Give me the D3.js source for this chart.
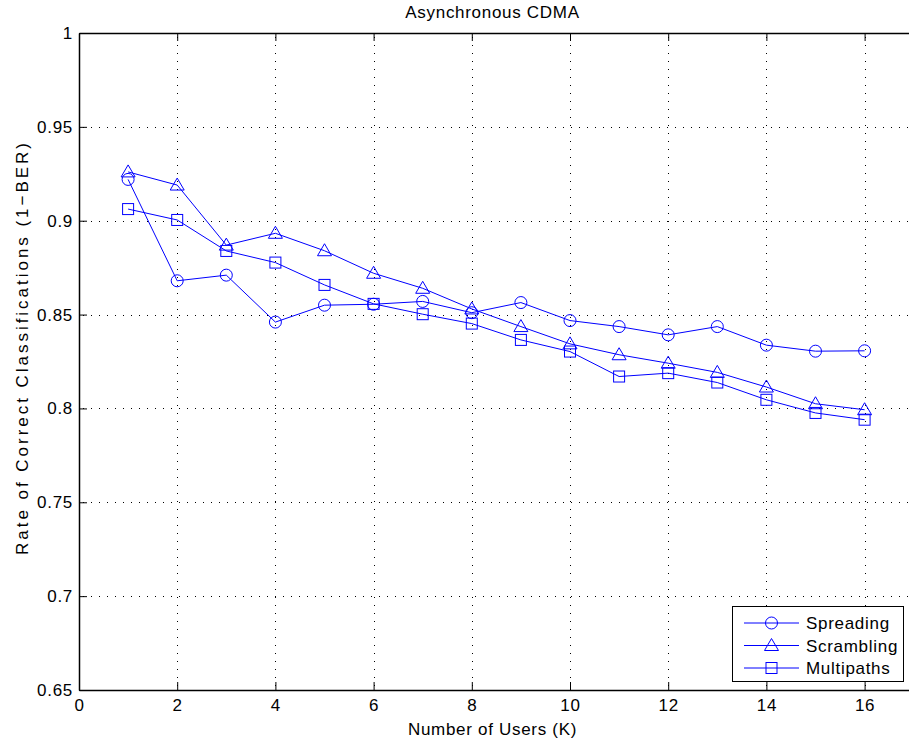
<!DOCTYPE html>
<html>
<head>
<meta charset="utf-8">
<script src="https://cdn.jsdelivr.net/npm/d3@7"></script>
<style>
  html, body { margin: 0; padding: 0; background: #fff; }
  svg { display: block; }
  text { font-family: "Liberation Sans", Arial, Helvetica, sans-serif; fill: #000; }
</style>
</head>
<body>
<svg id="chart" width="909" height="745"></svg>
<script>
// Number of active users
const users = [1, 2, 3, 4, 5, 6, 7, 8, 9, 10, 11, 12, 13, 14, 15, 16];

// Rate of correct classifications (1 - BER) per feature set
const spreading  = [0.922, 0.868, 0.871, 0.846, 0.855, 0.8555, 0.857, 0.851, 0.8564, 0.8468, 0.8436, 0.8392, 0.8436, 0.8337, 0.8305, 0.8307];
const scrambling = [0.926, 0.919, 0.887, 0.8933, 0.884, 0.872, 0.864, 0.853, 0.8436, 0.8344, 0.8286, 0.8241, 0.8192, 0.8114, 0.8025, 0.7993];
const multipaths = [0.9062, 0.9004, 0.8839, 0.8777, 0.8658, 0.8557, 0.8502, 0.8452, 0.8365, 0.8303, 0.817, 0.8188, 0.8138, 0.8046, 0.7976, 0.794];

const seriesNames = ["Spreading", "Scrambling", "Multipaths"];
const seriesMarkers = ["circle", "triangle", "square"];
const xTicks = [0, 2, 4, 6, 8, 10, 12, 14, 16];
const yTicks = [0.65, 0.7, 0.75, 0.8, 0.85, 0.9, 0.95, 1];

const series = [spreading, scrambling, multipaths].map((vals, i) => ({
  name: seriesNames[i],
  marker: seriesMarkers[i],
  values: vals.map((v, j) => ({ x: users[j], y: v }))
}));

const svg = d3.select("#chart");
const plotLeft = 79, plotTop = 33, plotBottom = 690;
const x = d3.scaleLinear().domain([0, 17]).range([plotLeft, plotLeft + 17 * 49.1]);
const y = d3.scaleLinear().domain([0.65, 1]).range([plotBottom, plotTop]);
const plotRight = x(17);
const blue = "#0000ff";
const fontSize = 17;
const spacing = 0.7;

// Dotted grid
const grid = svg.append("g").attr("stroke", "#000").attr("stroke-width", 1)
  .attr("stroke-dasharray", "1,7").attr("shape-rendering", "crispEdges");
xTicks.filter(t => t > 0).forEach(t => {
  grid.append("line").attr("x1", Math.round(x(t)) + 0.5).attr("x2", Math.round(x(t)) + 0.5)
    .attr("y1", plotBottom).attr("y2", plotTop).attr("stroke-dashoffset", 4);
});
yTicks.filter(t => t > 0.65 && t < 1).forEach(t => {
  grid.append("line").attr("y1", Math.round(y(t)) + 0.5).attr("y2", Math.round(y(t)) + 0.5)
    .attr("x1", plotLeft).attr("x2", plotRight).attr("stroke-dashoffset", 4);
});

// Axes (ticks point inward, mirrored on top)
const xAxis = d3.axisBottom(x).tickValues(xTicks).tickFormat(d3.format("d")).tickSizeInner(-8).tickSizeOuter(0).tickPadding(9);
const xAxisTop = d3.axisTop(x).tickValues(xTicks).tickFormat("").tickSizeInner(-8).tickSizeOuter(0);
const yAxis = d3.axisLeft(y).tickValues(yTicks).tickFormat(d => String(+d.toFixed(2))).tickSizeInner(-8).tickSizeOuter(0).tickPadding(6);

function styleAxis(g) {
  g.select(".domain").attr("stroke", "#000").attr("stroke-width", 1.5);
  g.selectAll(".tick line").attr("stroke", "#000").attr("stroke-width", 1);
  g.selectAll(".tick text").attr("font-size", fontSize).attr("letter-spacing", spacing)
    .attr("font-family", "Liberation Sans, Arial, sans-serif").attr("fill", "#000");
}
svg.append("g").attr("transform", `translate(0,${plotBottom})`).call(xAxis).call(styleAxis);
svg.append("g").attr("transform", `translate(0,${plotTop})`).call(xAxisTop).call(styleAxis);
svg.append("g").attr("transform", `translate(${plotLeft},0)`).call(yAxis).call(styleAxis);

// Series lines and markers
const line = d3.line().x(d => x(d.x)).y(d => y(d.y));

function drawMarker(g, type, cx, cy) {
  if (type === "circle") {
    g.append("circle").attr("cx", cx).attr("cy", cy).attr("r", 6);
  } else if (type === "triangle") {
    g.append("path").attr("d", `M${cx},${cy - 7}L${cx + 7},${cy + 5}L${cx - 7},${cy + 5}Z`);
  } else {
    g.append("rect").attr("x", cx - 5.5).attr("y", cy - 5.5).attr("width", 11).attr("height", 11);
  }
}

series.forEach(s => {
  const g = svg.append("g").attr("fill", "none").attr("stroke", blue).attr("stroke-width", 1);
  g.append("path").datum(s.values).attr("d", line);
  s.values.forEach(p => drawMarker(g, s.marker, x(p.x), y(p.y)));
});

// Legend
const lg = svg.append("g");
lg.append("rect").attr("x", 732.5).attr("y", 606.5).attr("width", 171).attr("height", 75)
  .attr("fill", "#fff").attr("stroke", "#000").attr("stroke-width", 1);
series.forEach((s, i) => {
  const ly = 623 + i * 22.5;
  const g = lg.append("g").attr("fill", "none").attr("stroke", blue).attr("stroke-width", 1);
  g.append("line").attr("x1", 744).attr("x2", 799).attr("y1", ly).attr("y2", ly);
  drawMarker(g, s.marker, 771.5, ly);
  lg.append("text").attr("x", 806).attr("y", ly + 6).attr("font-size", fontSize)
    .attr("letter-spacing", spacing).text(s.name);
});

// Title and axis labels
svg.append("text").attr("x", (plotLeft + 906) / 2).attr("y", 18).attr("text-anchor", "middle")
  .attr("font-size", fontSize).attr("letter-spacing", spacing).text("Asynchronous CDMA");
svg.append("text").attr("x", (plotLeft + 906) / 2).attr("y", 735).attr("text-anchor", "middle")
  .attr("font-size", fontSize).attr("letter-spacing", spacing).text("Number of Users (K)");
svg.append("text").attr("transform", "translate(28,349) rotate(-90)")
  .attr("text-anchor", "middle").attr("font-size", fontSize)
  .attr("textLength", 412).attr("lengthAdjust", "spacing")
  .text("Rate of Correct Classifications (1\u2212BER)");
</script>
</body>
</html>
